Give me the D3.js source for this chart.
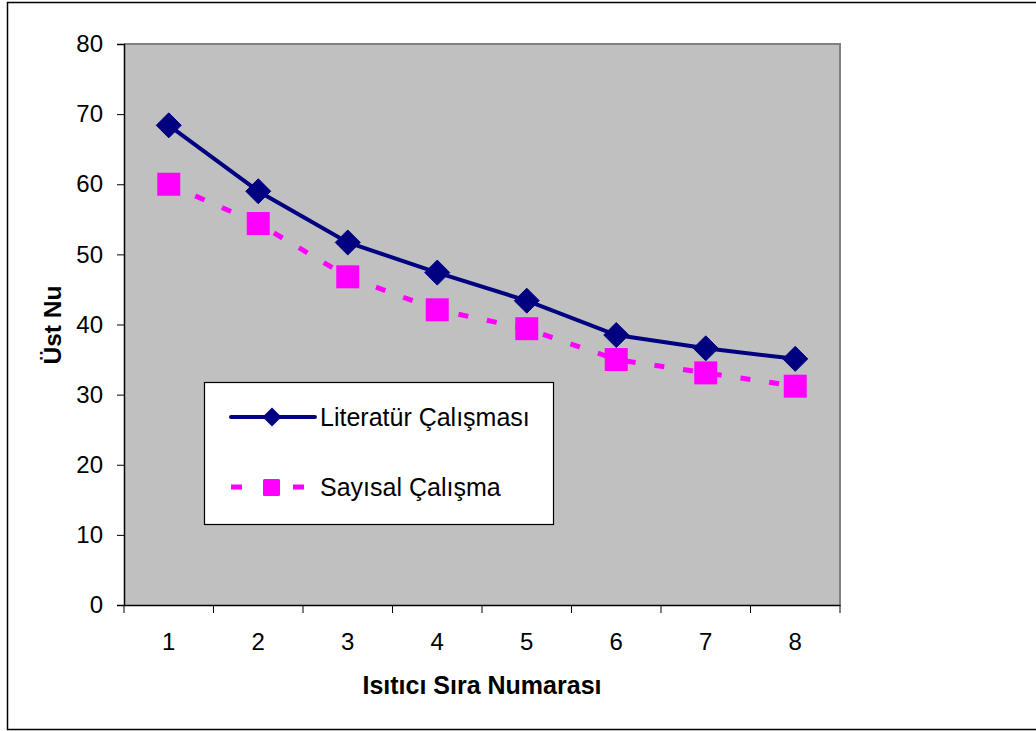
<!DOCTYPE html>
<html><head><meta charset="utf-8">
<script src="https://cdn.jsdelivr.net/npm/d3@7"></script>
<style>body{margin:0;background:#fff}svg{display:block}text{font-family:"Liberation Sans",Arial,sans-serif}</style>
</head><body>
<svg id="c" width="1036" height="731"></svg>
<script>
const categories = ["1","2","3","4","5","6","7","8"];
const literatur = [68.4, 59.0, 51.7, 47.4, 43.4, 38.5, 36.6, 35.1];
const sayisal = [60.0, 54.4, 46.8, 42.1, 39.4, 35.0, 33.1, 31.2];
const yTicks = [0,10,20,30,40,50,60,70,80];
const seriesNames = ["Literatür Çalışması", "Sayısal Çalışma"];

const svg = d3.select("#c");
const L = 124, R = 840, T = 44, B = 605;
const x = d3.scaleBand().domain(categories).range([L, R]);
const y = d3.scaleLinear().domain([0, 80]).range([B, T]);

// outer frame
svg.append("rect").attr("x",7.5).attr("y",2.5).attr("width",1040).attr("height",727)
  .attr("fill","#fff").attr("stroke","#000").attr("stroke-width",1.5);

// plot area
svg.append("rect").attr("x",L).attr("y",T).attr("width",R-L).attr("height",B-T).attr("fill","#c0c0c0");
svg.append("path").attr("d",`M${L},${T}H${R}V${B}`).attr("fill","none").attr("stroke","#808080").attr("stroke-width",2);

// y axis
const yAxis = svg.append("g").attr("transform",`translate(${L},0)`)
  .call(d3.axisLeft(y).tickValues(yTicks).tickSize(7).tickPadding(14));
yAxis.select(".domain").attr("stroke","#000").attr("stroke-width",1.5);
yAxis.selectAll(".tick line").attr("stroke","#000");
yAxis.selectAll("text").attr("font-size",24).attr("fill","#000").attr("font-family","Liberation Sans, Arial, sans-serif");

// x axis with ticks at boundaries
const xAxis = svg.append("g").attr("transform",`translate(0,${B})`)
  .call(d3.axisBottom(x).tickSize(0).tickPadding(28));
xAxis.select(".domain").attr("stroke","#000").attr("stroke-width",1.5);
xAxis.selectAll("text").attr("font-size",24).attr("fill","#000").attr("font-family","Liberation Sans, Arial, sans-serif");
const bounds = categories.map(c => x(c)).concat([R]);
xAxis.selectAll(".bt").data(bounds).enter().append("line")
  .attr("x1",d=>d).attr("x2",d=>d).attr("y1",0).attr("y2",8).attr("stroke","#000").attr("stroke-width",1);

const cx = c => x(c) + x.bandwidth()/2;

// series lines
const line = d3.line().x((d,i)=>cx(categories[i])).y(d=>y(d));
svg.append("path").datum(sayisal).attr("d",line).attr("fill","none")
  .attr("stroke","#ff00ff").attr("stroke-width",5).attr("stroke-dasharray","10,19");
svg.append("path").datum(literatur).attr("d",line).attr("fill","none")
  .attr("stroke","#000080").attr("stroke-width",4);

const diamond = (px,py,s) => `M${px},${py-s}L${px+s},${py}L${px},${py+s}L${px-s},${py}Z`;
svg.selectAll(".sq").data(sayisal).enter().append("rect")
  .attr("x",(d,i)=>cx(categories[i])-11.5).attr("y",d=>y(d)-11.5)
  .attr("width",23).attr("height",23).attr("fill","#ff00ff");
svg.selectAll(".dm").data(literatur).enter().append("path")
  .attr("d",(d,i)=>diamond(cx(categories[i]), y(d), 12.5)).attr("fill","#000080")
  .attr("stroke","#000080").attr("stroke-width",1).attr("stroke-linejoin","round");

// legend
svg.append("rect").attr("x",204.5).attr("y",382.5).attr("width",349).attr("height",142)
  .attr("fill","#fff").attr("stroke","#000").attr("stroke-width",1.2);
const ly1 = 417, ly2 = 487;
svg.append("line").attr("x1",231).attr("x2",315).attr("y1",ly1).attr("y2",ly1)
  .attr("stroke","#000080").attr("stroke-width",4).attr("stroke-linecap","round");
svg.append("path").attr("d",diamond(272,ly1,9.5)).attr("fill","#000080");
svg.append("line").attr("x1",231).attr("x2",242).attr("y1",ly2).attr("y2",ly2).attr("stroke","#ff00ff").attr("stroke-width",5);
svg.append("line").attr("x1",293).attr("x2",304).attr("y1",ly2).attr("y2",ly2).attr("stroke","#ff00ff").attr("stroke-width",5);
svg.append("rect").attr("x",263).attr("y",ly2-8).attr("width",17).attr("height",17).attr("rx",1.5).attr("fill","#ff00ff");
svg.append("text").attr("x",320).attr("y",ly1+8.5).attr("font-size",25).text(seriesNames[0]);
svg.append("text").attr("x",320).attr("y",ly2+8.5).attr("font-size",25).text(seriesNames[1]);

// axis titles
svg.append("text").attr("x",482).attr("y",694).attr("text-anchor","middle")
  .attr("font-size",25).attr("font-weight","bold").text("Isıtıcı Sıra Numarası");
svg.append("text").attr("transform","translate(61,325) rotate(-90)").attr("text-anchor","middle")
  .attr("font-size",24.5).attr("font-weight","bold").text("Üst Nu");
</script>
</body></html>
